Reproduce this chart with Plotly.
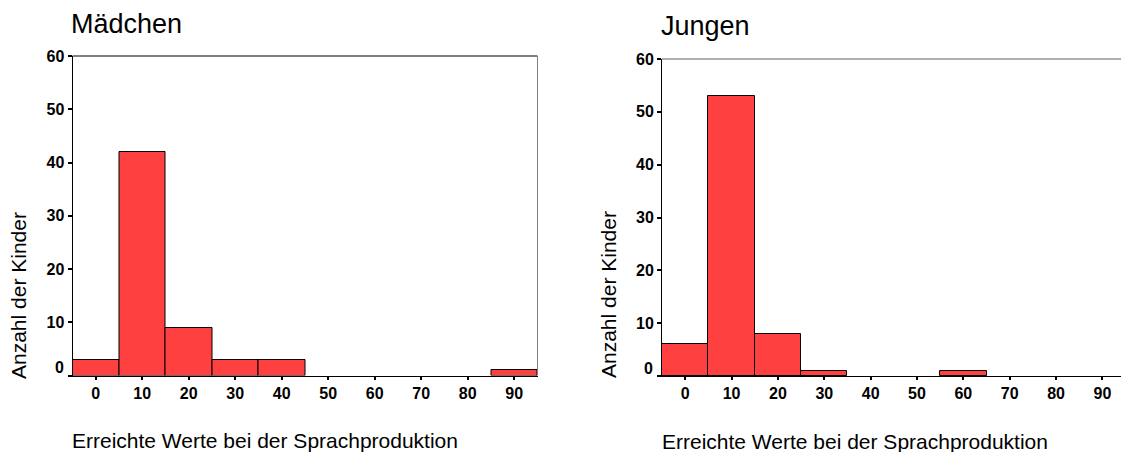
import plotly.graph_objects as go

# ---- data ----
bins = [0, 10, 20, 30, 40, 50, 60, 70, 80, 90]
maedchen = [3, 42, 9, 3, 3, 0, 0, 0, 0, 1]
jungen = [6, 53, 8, 1, 0, 0, 1, 0, 0, 0]
y_ticks = [0, 10, 20, 30, 40, 50, 60]
x_tick_labels = [str(b) for b in bins]
panel_titles = ["Mädchen", "Jungen"]
x_title = "Erreichte Werte bei der Sprachproduktion"
y_title = "Anzahl der Kinder"

W, H = 1121, 452
FONT = "Liberation Sans, Arial, sans-serif"
BAR = "#FF4040"


def px(x):
    return x / W


def py(y):
    return (H - y) / H


fig = go.Figure()
for vals, xa, ya in [(maedchen, "x", "y"), (jungen, "x2", "y2")]:
    fig.add_trace(go.Bar(
        x=bins, y=vals, width=10, xaxis=xa, yaxis=ya,
        marker=dict(color=BAR,
                    line=dict(color="black",
                              width=[1 if v > 0 else 0 for v in vals])),
        showlegend=False, hoverinfo="x+y"))

tickfont = dict(family=FONT, size=16, color="black", weight="bold")


def xaxis_cfg(dom, rng, anchor):
    return dict(domain=dom, range=rng, anchor=anchor, tickvals=bins,
                ticktext=x_tick_labels, ticks="outside", ticklen=3,
                tickwidth=2, tickcolor="black", showline=True,
                linecolor="black", linewidth=1, showgrid=False,
                zeroline=False, tickfont=tickfont, ticklabelstandoff=0,
                automargin=False, fixedrange=True)


def yaxis_cfg(dom, anchor):
    return dict(domain=dom, range=[0, 60], anchor=anchor, tickvals=y_ticks,
                ticktext=[""] + [str(v) for v in y_ticks[1:]],
                ticks="outside", ticklen=4, tickwidth=2, tickcolor="black",
                showline=True, linecolor="black", linewidth=1,
                showgrid=False, zeroline=False, tickfont=tickfont,
                automargin=False, fixedrange=True)


layout = dict(
    template="none",
    width=W, height=H, margin=dict(l=0, r=0, t=0, b=0, autoexpand=False),
    paper_bgcolor="white", plot_bgcolor="white", bargap=0,
    xaxis=xaxis_cfg([px(72.5), px(537.5)], [-5, 95], "y"),
    yaxis=yaxis_cfg([py(375.5), py(56)], "x"),
    xaxis2=xaxis_cfg([px(662), 1.0], [-5, 94], "y2"),
    yaxis2=yaxis_cfg([py(376), py(59)], "x2"),
)
fig.update_layout(**layout)

# frame lines (top / right)
fig.add_shape(type="line", xref="x domain", yref="y domain", x0=0, x1=1,
              y0=1, y1=1, line=dict(color="black", width=1))
fig.add_shape(type="line", xref="x domain", yref="y domain", x0=1, x1=1,
              y0=0, y1=1, line=dict(color="#808080", width=1))
fig.add_shape(type="line", xref="x2 domain", yref="y2 domain", x0=0, x1=1,
              y0=1, y1=1, line=dict(color="#606060", width=1))

ann = []
# raised "0" tick labels
for xr, yr in [("x domain", "y"), ("x2 domain", "y2")]:
    ann.append(dict(text="0", xref=xr, yref=yr, x=0, y=0, xanchor="right",
                    yanchor="middle", xshift=-7, yshift=8, showarrow=False,
                    font=tickfont))
# panel titles
ann.append(dict(text=panel_titles[0], xref="paper", yref="paper",
                x=px(69), y=py(24), xanchor="left", yanchor="middle",
                showarrow=False, font=dict(family=FONT, size=27, color="black")))
ann.append(dict(text=panel_titles[1], xref="paper", yref="paper",
                x=px(659), y=py(26), xanchor="left", yanchor="middle",
                showarrow=False, font=dict(family=FONT, size=27, color="black")))
# x titles
for x0, y0 in [(70, 440), (660, 441)]:
    ann.append(dict(text=x_title, xref="paper", yref="paper", x=px(x0),
                    y=py(y0), xanchor="left", yanchor="middle",
                    showarrow=False,
                    font=dict(family=FONT, size=21, color="black")))
# y titles
for x0, y0 in [(18, 296), (608, 295)]:
    ann.append(dict(text=y_title, xref="paper", yref="paper", x=px(x0),
                    y=py(y0), xanchor="center", yanchor="middle",
                    textangle=-90, showarrow=False,
                    font=dict(family=FONT, size=21, color="black")))
fig.update_layout(annotations=ann)

fig.write_html("out.html", config={"displayModeBar": False})
